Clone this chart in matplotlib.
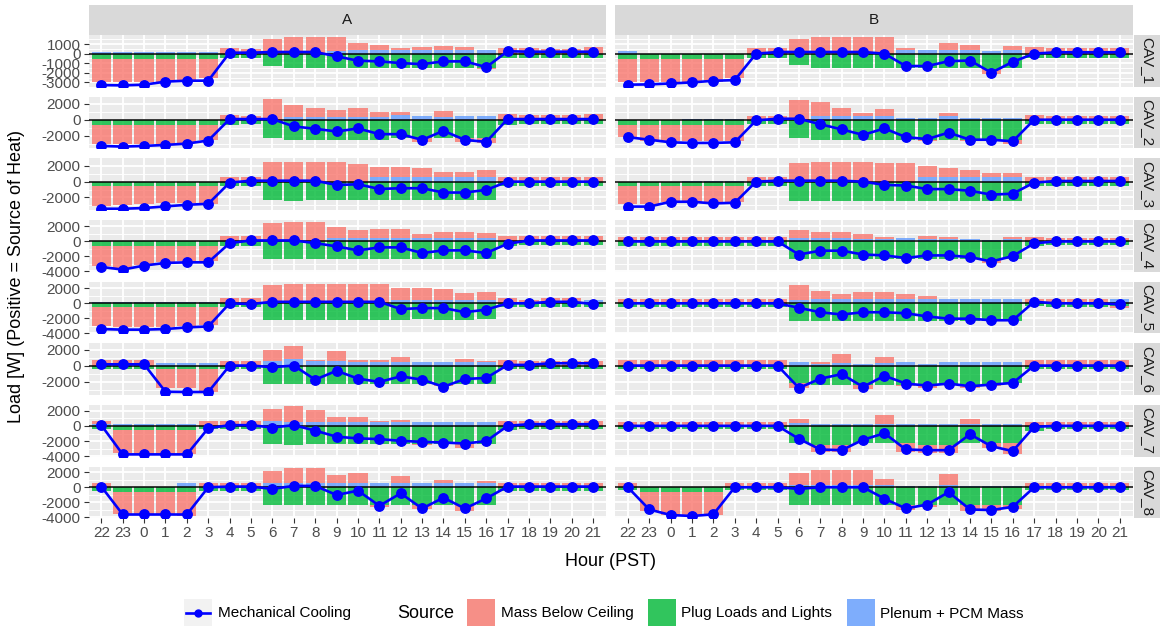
import numpy as np
import matplotlib
matplotlib.use("Agg")
import matplotlib.pyplot as plt
from matplotlib.patches import Rectangle
from matplotlib.lines import Line2D
from matplotlib.ticker import MultipleLocator

plt.rcParams["font.family"] = ["Liberation Sans", "DejaVu Sans"]
plt.rcParams["axes.unicode_minus"] = False

hours = [22, 23, 0, 1, 2, 3, 4, 5, 6, 7, 8, 9, 10, 11, 12, 13, 14, 15, 16, 17, 18, 19, 20, 21]
groups = ["A", "B"]
cavs = ["CAV_1", "CAV_2", "CAV_3", "CAV_4", "CAV_5", "CAV_6", "CAV_7", "CAV_8"]
sources = ["Mass Below Ceiling", "Plug Loads and Lights", "Plenum + PCM Mass"]

# Group A, one row per CAV, one value per hour (W)
mass_a = [
    [-2450, -2450, -2450, -2450, -2450, -2000, 550, 500, 1550, 1700, 1700, 1400, 710, 530, 140, 280, 430, 280, -50, 600, 560, 500, 500, 700],
    [-2380, -2380, -2380, -2380, -2210, -1880, 580, 500, 2580, 1545, 1090, 920, 1090, 590, 340, -460, 795, -460, -540, 750, 580, 580, 580, 750],
    [-2540, -2420, -2290, -2210, -2120, -2260, 620, 620, 2420, 2420, 2420, 2420, 2200, 1335, 1335, 1210, 630, 710, 920, 620, 620, 620, 620, 620],
    [-2730, -3130, -2510, -2210, -2070, -2070, 660, 660, 2420, 2550, 2550, 1540, 1060, 1190, 1190, 570, 880, 880, 660, 660, 660, 660, 660, 660],
    [-2630, -2720, -2720, -2720, -2550, -2430, 680, 680, 2420, 2550, 2550, 2550, 2550, 2550, 1490, 1490, 1360, 850, 1060, 680, 510, 680, 680, 0],
    [690, 690, 690, -2370, -2370, -2860, 610, 610, 1310, 1620, 80, 1230, 200, 200, 530, 0, -280, 410, 200, 690, 610, 610, 610, 610],
    [280, -3030, -3110, -3110, -3110, 580, 580, 580, 1640, 2140, 1690, 720, 720, 140, 360, -220, 0, -530, 0, 580, 580, 580, 580, 580],
    [630, -2920, -3140, -3140, -3280, 630, 630, 630, 1660, 2020, 2020, 1120, 1340, -220, 980, -580, 450, -760, 310, 630, 630, 630, 630, 630],
]
plug_a = [
    [-565, -565, -565, -565, -565, -565, -460, -500, -1340, -1520, -1520, -1520, -1520, -1520, -1520, -1520, -1520, -1520, -1520, -500, -500, -450, -450, -450],
    [-620, -620, -620, -620, -620, -620, -620, -500, -2290, -2500, -2500, -2500, -2500, -2500, -2290, -2290, -2290, -2290, -2290, -620, -500, -500, -500, -500],
    [-540, -540, -540, -540, -540, -540, -540, -540, -2290, -2500, -2290, -2290, -2290, -2290, -2290, -2290, -2290, -2290, -2290, -540, -540, -540, -540, -540],
    [-570, -570, -570, -570, -570, -570, -570, -570, -2330, -2330, -2330, -2330, -2330, -2330, -2330, -2330, -2330, -2330, -2330, -570, -440, -440, -440, -440],
    [-470, -470, -470, -470, -470, -470, -470, -470, -2250, -2250, -2250, -2250, -2250, -2250, -2250, -2040, -2250, -2250, -2040, -470, -470, -470, -470, -470],
    [-410, -410, -410, -410, -410, -410, -410, -410, -2290, -2290, -2290, -2290, -2290, -2290, -2290, -2290, -2290, -2290, -2290, -410, -410, -410, -410, -410],
    [-400, -530, -530, -530, -530, -400, -400, -400, -2310, -2530, -2310, -2310, -2310, -2310, -2310, -2310, -2310, -2310, -2310, -530, -400, -400, -400, -400],
    [-450, -580, -580, -580, -580, -450, -450, -450, -2380, -2380, -2380, -2380, -2380, -2380, -2380, -2380, -2380, -2380, -2380, -450, -450, -450, -450, -450],
]
plenum_a = [
    [120, 120, 120, 120, 120, 120, 0, 0, 0, 0, 0, 300, 420, 420, 420, 420, 420, 420, 350, 0, 0, 0, 0, 0],
    [0, 0, 0, 0, 0, 0, 0, 0, 0, 330, 330, 330, 330, 330, 580, 420, 330, 420, 420, 0, 0, 0, 0, 0],
    [0, 0, 0, 0, 0, 0, 0, 0, 0, 0, 0, 0, 0, 540, 540, 540, 620, 540, 540, 0, 0, 0, 0, 0],
    [0, 0, 0, 0, 0, 0, 0, 0, 0, 0, 0, 440, 440, 440, 440, 440, 440, 440, 440, 0, 0, 0, 0, 0],
    [200, 200, 200, 200, 200, 200, 0, 0, 0, 0, 0, 0, 0, 0, 510, 510, 510, 510, 510, 0, 0, 0, 0, 510],
    [0, 0, 0, 290, 290, 290, 0, 0, 610, 780, 610, 610, 490, 490, 490, 410, 410, 410, 410, 0, 0, 0, 0, 0],
    [300, 270, 270, 270, 270, 0, 0, 0, 580, 440, 440, 440, 440, 440, 440, 440, 440, 440, 440, 0, 0, 0, 0, 0],
    [0, 100, 100, 100, 540, 0, 0, 0, 540, 540, 540, 540, 540, 540, 540, 540, 540, 540, 540, 0, 0, 0, 0, 0],
]
cooling_a = [
    [-3290, -3320, -3250, -2930, -2830, -2830, 100, 100, 170, 170, 170, -280, -740, -810, -990, -1100, -810, -810, -1410, 250, 200, 200, 200, 200],
    [-3250, -3330, -3250, -3125, -2960, -2580, 80, 80, 80, -830, -1125, -1460, -1080, -1790, -1790, -2500, -1375, -2500, -2750, 80, 80, 80, 80, 80],
    [-3420, -3420, -3330, -3125, -2920, -2800, -120, 120, 120, 120, 120, -420, -330, -920, -830, -830, -1375, -1375, -1040, 0, 0, 0, 0, 0],
    [-3390, -3750, -3210, -2860, -2780, -2780, -220, 130, 130, 130, -220, -660, -1190, -790, -790, -1540, -1190, -1190, -1540, -300, 130, 130, 130, 130],
    [-3450, -3530, -3530, -3450, -3230, -3100, 0, -100, 200, 200, 200, 200, 200, 200, -770, -640, -640, -1190, -850, 0, 0, 200, 200, -100],
    [160, 160, 160, -3270, -3300, -3300, 0, 0, -200, 0, -1760, -650, -1630, -2040, -1350, -1760, -2650, -1670, -1550, 80, 80, 290, 290, 290],
    [90, -3730, -3730, -3730, -3730, -310, 90, 90, -220, 90, -620, -1420, -1640, -1730, -1960, -2090, -2180, -2310, -2000, 0, 220, 220, 220, 220],
    [90, -3630, -3630, -3630, -3630, 0, 90, 90, -220, 180, 180, -1030, -450, -2470, -810, -2830, -1390, -2830, -1480, 90, 90, 90, 90, 90],
]

# Group B
mass_b = [
    [-2460, -2460, -2460, -2460, -2460, -2050, 580, 580, 1500, 1710, 1710, 1710, 1710, 170, 0, 690, 510, -585, 410, 680, 580, 580, 580, 580],
    [-1480, -2000, -2000, -2000, -2000, -2000, 520, 520, 2400, 1840, 1040, 440, 880, 0, -200, 400, -200, -200, -480, 640, 520, 520, 520, 520],
    [-2260, -2180, -1970, -1970, -1970, -1970, 610, 610, 2380, 2540, 2540, 2540, 2380, 2380, 1400, 1230, 900, 580, 580, 610, 610, 610, 610, 610],
    [590, 590, 590, 590, 590, 590, 590, 590, 1100, 800, 800, 550, 210, 0, 340, 210, 0, -550, 210, 590, 510, 510, 510, 510],
    [640, 640, 640, 640, 640, 640, 640, 640, 2020, 1070, 730, 940, 940, 730, 420, 0, 0, 0, 0, 640, 520, 520, 520, -350],
    [700, 700, 700, 700, 700, 700, 700, 700, -620, 290, 1100, -530, 730, -200, -410, 0, -410, -200, 0, 700, 700, 700, 700, 700],
    [510, 510, 510, 510, 510, 510, 510, 510, 470, -970, -970, 0, 1150, -1180, -1080, -1060, 640, -630, -1390, 510, 510, 510, 510, 510],
    [610, -2600, -3170, -3170, -3170, 610, 610, 610, 1660, 1960, 1960, 1960, 790, -740, -310, 1440, -870, -870, -660, 610, 610, 610, 610, 610],
]
plug_b = [
    [-550, -550, -550, -550, -550, -550, -450, -450, -1230, -1470, -1470, -1470, -1470, -1470, -1470, -1470, -1470, -1575, -1470, -450, -450, -450, -450, -450],
    [-680, -680, -680, -680, -680, -680, -560, -560, -2280, -2480, -2480, -2480, -2480, -2480, -2480, -2480, -2480, -2480, -2480, -560, -560, -560, -560, -560],
    [-610, -610, -610, -610, -610, -610, -530, -530, -2460, -2460, -2460, -2460, -2460, -2460, -2460, -2460, -2460, -2460, -2460, -530, -530, -530, -530, -530],
    [-590, -590, -590, -590, -590, -590, -590, -590, -2290, -2370, -2370, -2370, -2370, -2370, -2370, -2370, -2370, -2370, -2370, -590, -470, -470, -470, -470],
    [-470, -470, -470, -470, -470, -470, -470, -470, -2360, -2360, -2360, -2360, -2360, -2360, -2360, -2360, -2360, -2360, -2360, -340, -470, -470, -470, -340],
    [-450, -450, -450, -450, -450, -450, -450, -450, -2170, -2380, -2380, -2380, -2380, -2380, -2380, -2380, -2380, -2380, -2170, -450, -450, -450, -450, -450],
    [-470, -470, -470, -470, -470, -470, -470, -470, -2250, -2460, -2460, -2250, -2250, -2250, -2460, -2460, -2250, -2250, -2250, -640, -470, -470, -470, -470],
    [-430, -570, -570, -570, -570, -430, -430, -430, -2300, -2300, -2300, -2300, -2300, -2300, -2300, -2300, -2300, -2300, -2300, -430, -430, -430, -430, -430],
]
plenum_b = [
    [240, 0, 0, 0, 0, 0, 0, 0, 0, 0, 0, 0, 0, 410, 410, 410, 410, 310, 410, 0, 0, 0, 0, 0],
    [0, 0, 0, 80, 80, 80, 0, 0, 0, 400, 400, 400, 400, 200, 200, 400, 200, 200, 200, 0, 0, 0, 0, 0],
    [0, 0, 0, 100, 100, 100, 0, 0, 0, 0, 0, 0, 0, 0, 530, 530, 530, 530, 530, 0, 0, 0, 0, 0],
    [0, 0, 0, 0, 0, 0, 0, 0, 470, 470, 470, 380, 380, 470, 380, 380, 380, 250, 380, 0, 0, 0, 0, 0],
    [0, 0, 0, 0, 0, 0, 0, 0, 430, 520, 520, 520, 520, 520, 520, 600, 600, 600, 600, 0, 0, 0, 0, 600],
    [0, 0, 0, 0, 0, 0, 0, 0, 490, 200, 290, 200, 290, 490, 200, 490, 490, 490, 490, 0, 0, 0, 0, 0],
    [0, 0, 0, 0, 0, 0, 0, 0, 380, 210, 210, 210, 210, 210, 210, 210, 210, 210, 210, 0, 0, 0, 0, 0],
    [0, 0, 0, 0, 0, 0, 0, 0, 300, 300, 300, 300, 300, 170, 170, 300, 170, 170, 170, 0, 0, 0, 0, 0],
]
cooling_b = [
    [-3250, -3220, -3120, -3010, -2840, -2770, 0, 170, 170, 170, 170, 170, 0, -1300, -1300, -790, -720, -1990, -860, 0, 140, 140, 140, 140],
    [-2160, -2480, -2800, -2880, -2880, -2800, -80, 120, 120, -560, -1200, -1880, -1080, -2160, -2400, -1600, -2480, -2480, -2680, 0, 0, 0, 0, 0],
    [-3150, -3150, -2540, -2540, -2750, -2660, 0, 120, 120, 120, 120, 0, -410, -490, -940, -940, -1150, -1640, -1520, -120, 80, 80, 80, 80],
    [0, 0, 0, 0, 0, 0, 0, 0, -1740, -1230, -1230, -1740, -1860, -2200, -1860, -1860, -2080, -2670, -1950, -250, 0, 0, 0, 0],
    [0, 0, 0, 0, 0, 0, 0, 0, -600, -1200, -1500, -1200, -1200, -1330, -1760, -2060, -2060, -2270, -2270, 210, 0, 0, 0, -130],
    [0, 0, 0, 0, 0, 0, 0, 0, -2790, -1640, -1070, -2660, -1270, -2250, -2500, -2250, -2580, -2380, -2170, 0, 0, 0, 0, 0],
    [0, 0, 0, 0, 0, 0, 0, 0, -1700, -3090, -3180, -1820, -970, -3090, -3180, -3180, -1100, -2670, -3300, -130, 0, 0, 0, 0],
    [0, -2960, -3700, -3830, -3610, 0, 0, 0, -220, 0, 0, 0, -1520, -2830, -2300, -650, -2960, -3040, -2610, 0, 0, 0, 0, 0],
]

# y range and tick spacing shared along each row (free y scales)
row_limits = [(-3460, 1950), (-3550, 2860), (-3580, 2950), (-4020, 2860),
              (-4020, 2910), (-3670, 2790), (-4020, 2740), (-4130, 2760)]
row_steps = [1000, 2000, 2000, 2000, 2000, 2000, 2000, 2000]

RED, GREEN, BLUE = "#F8766D", "#00BA38", "#619CFF"
W, H = 1163, 630


def px_rect(x0, y0, x1, y1):
    """Figure-fraction rect from pixel box measured from the top-left."""
    return [x0 / W, 1 - y1 / H, (x1 - x0) / W, (y1 - y0) / H]


def draw_panel(ax, mass, plug, plenum, cooling, ylim, step):
    x = np.arange(len(hours))
    pos = np.zeros(len(hours))
    neg = np.zeros(len(hours))
    # ggplot stacking: last factor level sits next to zero
    for vals, color in [(plenum, BLUE), (plug, GREEN), (mass, RED)]:
        v = np.asarray(vals, dtype=float)
        base = np.where(v >= 0, pos, neg)
        ax.bar(x, v, width=0.9, bottom=base, color=color, alpha=0.8,
               linewidth=0, zorder=2)
        pos += np.clip(v, 0, None)
        neg += np.clip(v, None, 0)
    ax.axhline(0, color="black", lw=1.1, zorder=3)
    ax.plot(x, cooling, color="blue", lw=1.9, marker="o", ms=6.8, zorder=4)

    ax.set_facecolor("#EBEBEB")
    ax.set_xlim(-0.6, len(hours) - 0.4)
    ax.set_ylim(*ylim)
    ax.set_xticks(x)
    ax.yaxis.set_major_locator(MultipleLocator(step))
    ax.yaxis.set_minor_locator(MultipleLocator(step / 2))
    ax.set_axisbelow(True)
    ax.grid(which="major", color="white", lw=1.3)
    ax.grid(which="minor", axis="y", color="white", lw=0.65)
    for s in ax.spines.values():
        s.set_visible(False)
    ax.tick_params(which="minor", length=0)
    ax.tick_params(which="major", color="#333333", length=3.4, width=0.8,
                   labelsize=11, labelcolor="#4D4D4D", pad=2.2)


fig = plt.figure(figsize=(W / 100, H / 100), dpi=100)

col_x = [(88.5, 606.0), (615.0, 1132.5)]
top0, pitch, panel_h = 35.0, 61.65, 51.7
data = {"A": (mass_a, plug_a, plenum_a, cooling_a),
        "B": (mass_b, plug_b, plenum_b, cooling_b)}

for r in range(len(cavs)):
    top = top0 + r * pitch
    for c, g in enumerate(groups):
        x0, x1 = col_x[c]
        ax = fig.add_axes(px_rect(x0, top, x1, top + panel_h))
        m, p, pl, cl = data[g]
        draw_panel(ax, m[r], p[r], pl[r], cl[r], row_limits[r], row_steps[r])
        if c == 1:
            ax.tick_params(axis="y", left=False, labelleft=False)
        if r < len(cavs) - 1:
            ax.tick_params(axis="x", bottom=False, labelbottom=False)
        else:
            ax.set_xticklabels([str(h) for h in hours])

# strips, titles and legend on a pixel-space overlay
ov = fig.add_axes([0, 0, 1, 1])
ov.set_xlim(0, W)
ov.set_ylim(H, 0)
ov.axis("off")

for c, g in enumerate(groups):
    x0, x1 = col_x[c]
    ov.add_patch(Rectangle((x0, 4.5), x1 - x0, 30, facecolor="#D9D9D9", edgecolor="none"))
    ov.text((x0 + x1) / 2, 20.5, g, ha="center", va="center", fontsize=11, color="#1A1A1A")

for r, name in enumerate(cavs):
    top = top0 + r * pitch
    ov.add_patch(Rectangle((1134, top), 26, panel_h, facecolor="#D9D9D9", edgecolor="none"))
    ov.text(1147, top + panel_h / 2, name, ha="center", va="center", rotation=-90,
            fontsize=11, color="#1A1A1A")

panels_bottom = top0 + (len(cavs) - 1) * pitch + panel_h
ov.text(17, (top0 + panels_bottom) / 2, "Load [W] (Positive = Source of Heat)",
        rotation=90, ha="center", va="center", fontsize=13)
ov.text((col_x[0][0] + col_x[1][1]) / 2, 561, "Hour (PST)", ha="center", va="center", fontsize=13)

# legend
ky, ks = 599, 27
ov.add_patch(Rectangle((184, ky), 28, ks, facecolor="#F2F2F2", edgecolor="none"))
ov.add_line(Line2D([186, 210], [ky + ks / 2] * 2, color="blue", lw=1.9))
ov.plot([198], [ky + ks / 2], marker="o", color="blue", ms=5)
ov.text(218, ky + ks / 2 + 1, "Mechanical Cooling", ha="left", va="center", fontsize=11)
ov.text(397, ky + ks / 2 + 1, "Source", ha="left", va="center", fontsize=13)
for kx, tx, color, label in [(467, 501, RED, sources[0]),
                             (648, 681, GREEN, sources[1]),
                             (847, 880, BLUE, sources[2])]:
    ov.add_patch(Rectangle((kx, ky), 28, ks, facecolor="#F2F2F2", edgecolor="none"))
    ov.add_patch(Rectangle((kx, ky), 28, ks, facecolor=color, alpha=0.8, edgecolor="none"))
    ov.text(tx, ky + ks / 2 + 1, label, ha="left", va="center", fontsize=11)

fig.savefig("out.png", dpi=100)
